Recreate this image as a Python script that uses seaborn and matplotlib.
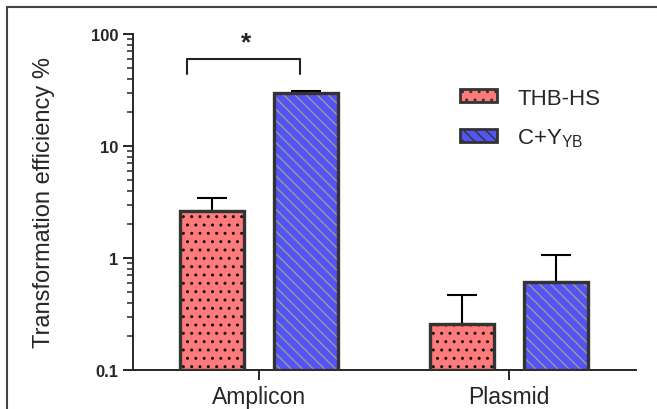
import pandas as pd
import numpy as np
import matplotlib.pyplot as plt
import seaborn as sns
from matplotlib.patches import Patch, Rectangle
from matplotlib.lines import Line2D

sns.set_style("ticks")
plt.rcParams['font.family'] = ['Liberation Sans', 'DejaVu Sans']
plt.rcParams['mathtext.fontset'] = 'custom'
plt.rcParams['mathtext.rm'] = 'Liberation Sans'
plt.rcParams['hatch.linewidth'] = 1.0

# Data (log scale)
categories = ['Amplicon', 'Plasmid']
groups = ['THB-HS', 'C+Y_YB']
group_labels = ['THB-HS', r'C+Y$_\mathregular{YB}$']
thb_values = [2.65, 0.26]
cy_values = [30.0, 0.61]
thb_upper = [3.45, 0.47]
cy_upper = [31.0, 1.06]

colors = ['#FF7B7B', '#5454F5']
hatches = ['..', '\\\\\\']
hatch_colors = ['#111111', '#9A9A9A']
edge = '#333333'

df = pd.DataFrame({
    'Category': categories * 2,
    'Group': [groups[0]] * 2 + [groups[1]] * 2,
    'Value': thb_values + cy_values,
})

fig = plt.figure(figsize=(6.57, 4.10), dpi=100)
ax = fig.add_axes([133 / 657, 1 - 371 / 410, (636 - 133) / 657, (371 - 35) / 410])

sns.barplot(ax=ax, data=df, x='Category', y='Value', hue='Group', order=categories,
            hue_order=groups, palette=colors, width=0.752, gap=0.32, saturation=1,
            errorbar=None, legend=False, linewidth=0)

ax.set_yscale('log')
ax.set_ylim(0.1, 100)
ax.set_xlim(-0.504, 1.508)

# hatch + outline per bar, then upper-only error bars
uppers = [thb_upper, cy_upper]
bar_containers = list(ax.containers)
for gi, container in enumerate(bar_containers):
    for ci, bar in enumerate(container):
        bar.set_hatch(hatches[gi])
        bar.set_edgecolor(hatch_colors[gi])
        bar.set_linewidth(0)
        x, w, h = bar.get_x(), bar.get_width(), bar.get_height()
        ax.add_patch(Rectangle((x, 0.1), w, h - 0.1, fill=False, edgecolor=edge,
                               linewidth=2.4, zorder=3))
        cx = x + w / 2
        ax.errorbar(cx, h, yerr=[[0], [uppers[gi][ci] - h]], fmt='none',
                    ecolor='black', elinewidth=1.5, capsize=11, capthick=1.5, zorder=2)

# significance bracket
ax.plot([-0.288, -0.288, 0.164, 0.164], [44, 60, 60, 44], color='#222222', lw=1.5,
        clip_on=False)
ax.text(-0.052, 84, '*', ha='center', va='center', fontsize=19, fontweight='bold')

sns.despine(ax=ax, top=True, right=True)
ax.spines['left'].set_linewidth(1.4)
ax.spines['bottom'].set_linewidth(1.4)
ax.tick_params(axis='y', which='major', length=7, width=1.4, labelsize=12)
ax.tick_params(axis='y', which='minor', length=4, width=1.1)
ax.tick_params(axis='x', length=7, width=1.4, labelsize=16.5, pad=4)
ax.set_yticks([0.1, 1, 10, 100])
ax.set_yticklabels(['0.1', '1', '10', '100'], fontweight='bold')
ax.set_xlabel('')
ax.set_ylabel('Transformation efficiency %', fontsize=17, labelpad=26)

handles = [Patch(facecolor=colors[i], edgecolor=edge, hatch=hatches[i], linewidth=2)
           for i in range(2)]
ax.legend(handles, group_labels, loc='upper left', bbox_to_anchor=(0.611, 0.9),
          frameon=False, fontsize=16, handlelength=1.66, handleheight=0.55,
          labelspacing=0.8, handletextpad=0.9)

# outer frame (top and left only)
fig.add_artist(Line2D([7 / 657, 1], [1 - 8 / 410, 1 - 8 / 410], color='#444444', lw=1.5))
fig.add_artist(Line2D([7 / 657, 7 / 657], [0, 1 - 8 / 410], color='#444444', lw=1.5))

fig.savefig('out.png', dpi=100)
